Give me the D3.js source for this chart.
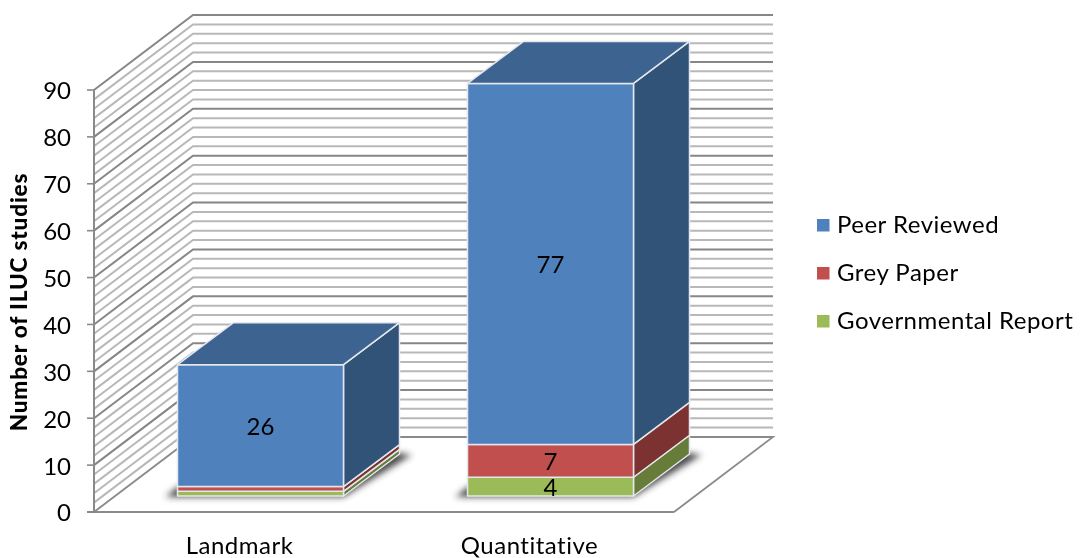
<!DOCTYPE html>
<html><head><meta charset="utf-8">
<script src="https://cdn.jsdelivr.net/npm/d3@7"></script>
<style>html,body{margin:0;padding:0;background:#fff}svg{display:block}text{font-family:Lato,"Open Sans",sans-serif;fill:#000}</style>
</head><body><svg id="c" width="1081" height="558"></svg>
<script>
const categories = ["Landmark", "Quantitative"];
const seriesNames = ["Governmental Report", "Grey Paper", "Peer Reviewed"];
const governmental = [1, 4];
const grey = [1, 7];
const peer = [26, 77];
const dataLabels = [[null, 4], [null, 7], [26, 77]];
const legendOrder = ["Peer Reviewed", "Grey Paper", "Governmental Report"];
const yTicks = [0, 10, 20, 30, 40, 50, 60, 70, 80, 90];
const gridValues = d3.range(0, 91, 2);
const frontColors = ["#9BBB59", "#C0504D", "#4F81BD"];
const sideColors = ["#667C39", "#7D3230", "#325378"];
const topColor = "#3E6390";

const svg = d3.select("#c");
const defs = svg.append("defs");
defs.append("filter").attr("id", "soft").attr("x", "-5%").attr("y", "-5%").attr("width", "110%").attr("height", "110%")
  .append("feGaussianBlur").attr("stdDeviation", 0.45);
defs.append("filter").attr("id", "shadow").attr("x", "-30%").attr("y", "-30%").attr("width", "160%").attr("height", "160%")
  .append("feGaussianBlur").attr("stdDeviation", 3);

const y = d3.scaleLinear().domain([0, 90]).range([512, 90]);
const wallDx = 99, wallDy = 75, baseDx = 21, baseDy = 16, barDx = 56, barDy = 42;
const x = d3.scaleBand().domain(categories).range([115.5, 695.5]).paddingInner(0.4276).paddingOuter(0.2138);
const line = d3.line();
const root = svg.append("g").attr("filter", "url(#soft)");

// walls
const wall = root.append("g").attr("fill", "none");
gridValues.filter(v => v > 0).forEach(v => {
  const major = v % 10 === 0;
  wall.append("path")
    .attr("d", line([[94, y(v)], [94 + wallDx, y(v) - wallDy], [94 + wallDx + 580, y(v) - wallDy]]))
    .attr("stroke", major ? "#868686" : "#b8b8b8").attr("stroke-width", 2);
});
// floor
wall.append("path")
  .attr("d", line([[94, y(0)], [94 + wallDx, y(0) - wallDy], [94 + wallDx + 580, y(0) - wallDy], [94 + 580, y(0)]]))
  .attr("stroke", "#8a8a8a").attr("stroke-width", 1.8);
wall.append("path")
  .attr("d", line([[87, y(0)], [94 + 580, y(0)]]))
  .attr("stroke", "#8a8a8a").attr("stroke-width", 2.2);
// axis
wall.append("path").attr("d", line([[94, y(0)], [94, y(90)]])).attr("stroke", "#8a8a8a").attr("stroke-width", 2);
yTicks.forEach(t => wall.append("path").attr("d", line([[87, y(t)], [94, y(t)]])).attr("stroke", "#8a8a8a").attr("stroke-width", 1.6));

// shadows + bars
categories.forEach((c, i) => {
  const x0 = x(c), x1 = x0 + x.bandwidth(), yb = y(0) - baseDy;
  root.append("path")
    .attr("d", line([[x0 - 12, yb + 1], [x1, yb + 1], [x1 + barDx + 12, yb - barDy + 1], [x1 + barDx - 20, yb - barDy - 4], [x0, yb - 9]]) + "Z")
    .attr("fill", "#2e2e2e").attr("fill-opacity", 0.85).attr("filter", "url(#shadow)");
  let cum = 0;
  const vals = [governmental[i], grey[i], peer[i]];
  vals.forEach((v, s) => {
    const yLo = y(cum) - baseDy, yHi = y(cum + v) - baseDy;
    const edge = "#e4e8ee";
    const g = root.append("g").attr("stroke", edge).attr("stroke-width", 1.5).attr("stroke-linejoin", "round");
    g.append("path").attr("d", line([[x1, yLo], [x1 + barDx, yLo - barDy], [x1 + barDx, yHi - barDy], [x1, yHi]]) + "Z").attr("fill", sideColors[s]);
    g.append("path").attr("d", line([[x0, yLo], [x1, yLo], [x1, yHi], [x0, yHi]]) + "Z").attr("fill", frontColors[s]);
    if (s === 2) {
      g.append("path").attr("d", line([[x0, yHi], [x1, yHi], [x1 + barDx, yHi - barDy], [x0 + barDx, yHi - barDy]]) + "Z").attr("fill", topColor);
    }
    cum += v;
  });
});

// data labels
categories.forEach((c, i) => {
  let cum = 0;
  [governmental[i], grey[i], peer[i]].forEach((v, s) => {
    const lab = dataLabels[s][i];
    if (lab !== null) {
      root.append("text").attr("x", x(c) + x.bandwidth() / 2)
        .attr("y", y(cum + v / 2) - baseDy + 1).attr("dy", "0.35em")
        .attr("text-anchor", "middle").attr("font-size", 24).text(lab);
    }
    cum += v;
  });
});

// axis labels
yTicks.forEach(t => root.append("text").attr("x", 71).attr("y", y(t) + 1).attr("dy", "0.35em")
  .attr("text-anchor", "end").attr("font-size", 24).text(t));
categories.forEach(c => root.append("text").attr("x", x(c) + x.bandwidth() / 2 - baseDx).attr("y", 554)
  .attr("text-anchor", "middle").attr("font-size", 24).attr("letter-spacing", 0.5).text(c));
root.append("text").attr("transform", "translate(27,302) rotate(-90)")
  .attr("text-anchor", "middle").attr("font-size", 22.5).attr("letter-spacing", 0.85).attr("font-weight", 900).text("Number of ILUC studies");

// legend
const legendY = d3.scalePoint().domain(legendOrder).range([225, 321]);
legendOrder.forEach(n => {
  root.append("rect").attr("x", 817).attr("y", legendY(n) - 6).attr("width", 12.5).attr("height", 12.5)
    .attr("fill", frontColors[seriesNames.indexOf(n)]);
  root.append("text").attr("x", 837).attr("y", legendY(n)).attr("dy", "0.35em").attr("font-size", 24).attr("letter-spacing", 0.5).text(n);
});
</script></body></html>
